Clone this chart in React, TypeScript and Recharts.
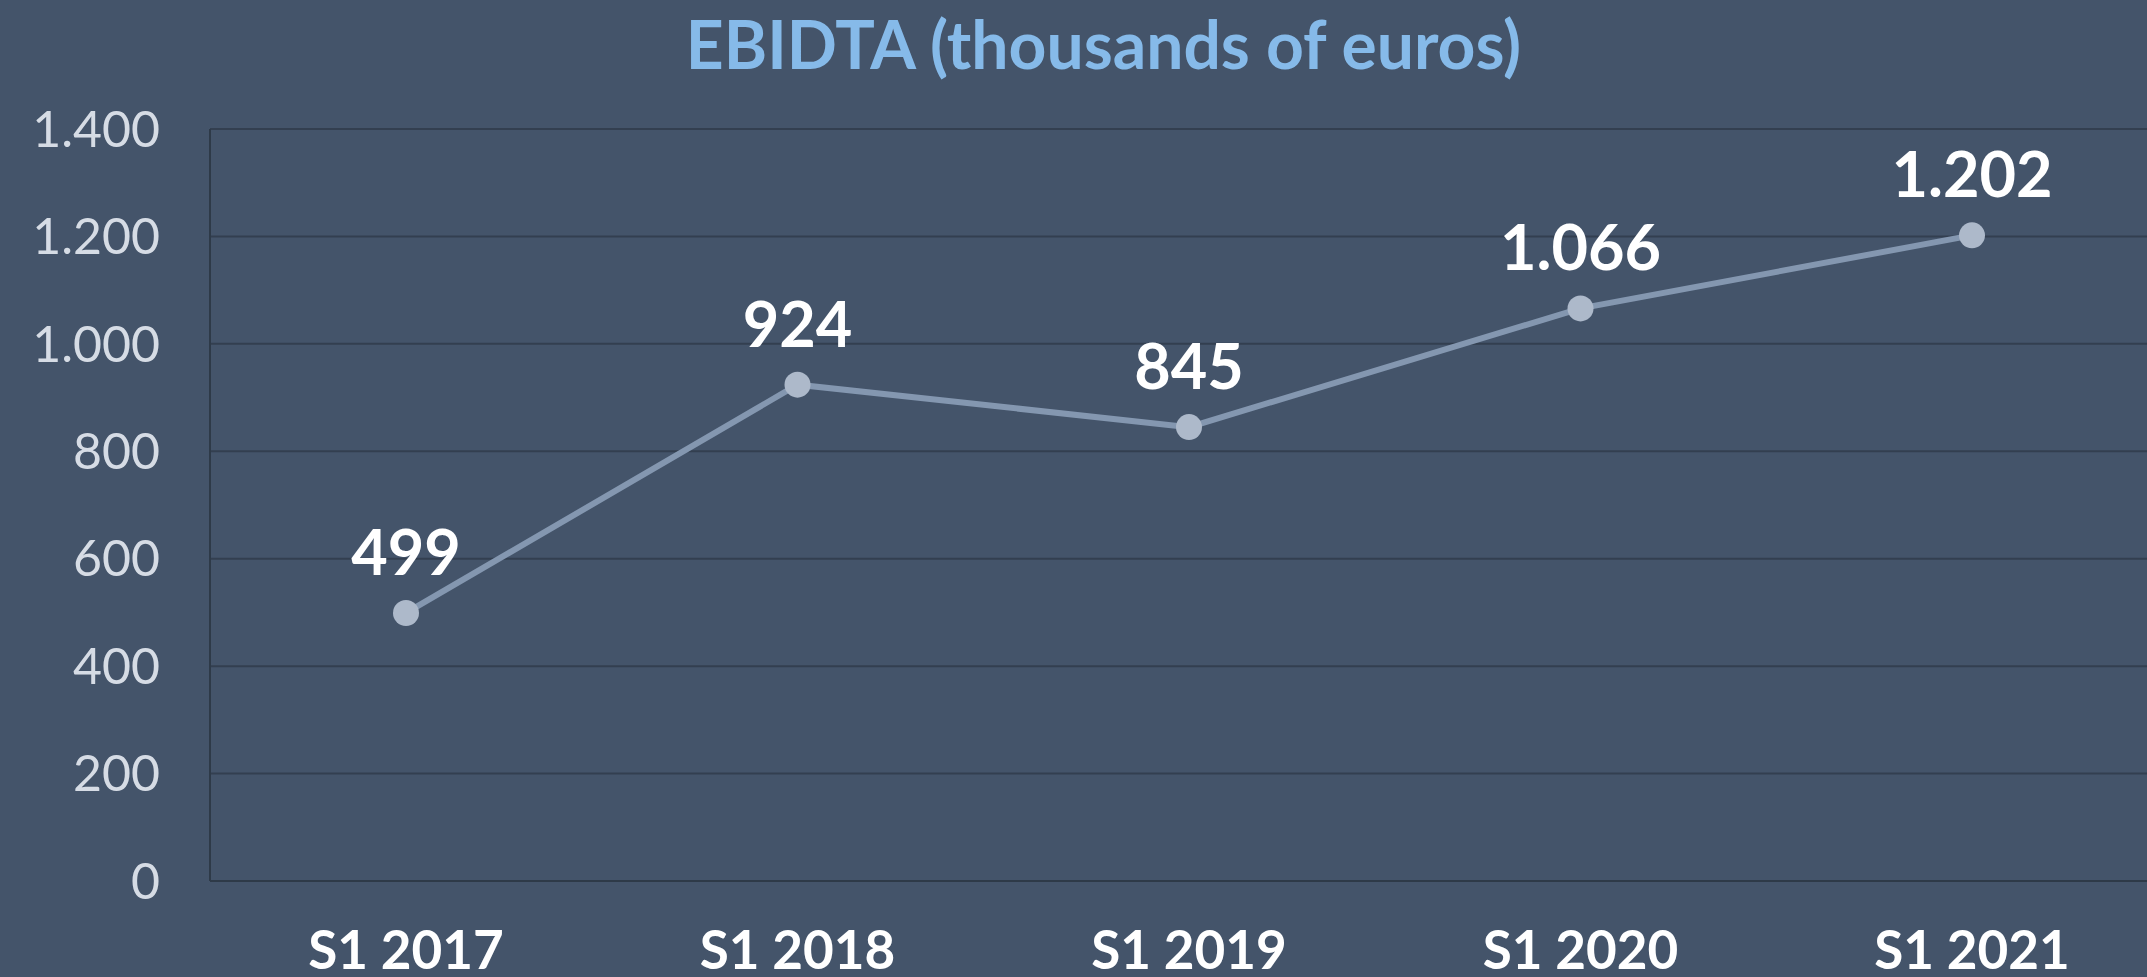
import { LineChart, Line, XAxis, YAxis, CartesianGrid, LabelList } from 'recharts';

const categories = ['S1 2017', 'S1 2018', 'S1 2019', 'S1 2020', 'S1 2021'];
const ebitda = [499, 924, 845, 1066, 1202];
const yTicks = [0, 200, 400, 600, 800, 1000, 1200, 1400];

const data = categories.map((name, i) => ({ name, value: ebitda[i] }));

// thousands separator is a dot, like the original
const fmt = (v: number | string) => String(v).replace(/\B(?=(\d{3})+(?!\d))/g, '.');

const FONT = 'Lato, "Open Sans", sans-serif';

export default function App() {
  return (
    <div
      style={{
        position: 'fixed',
        left: 0,
        top: 0,
        width: 2147,
        height: 977,
        background: '#44546A',
        fontFamily: FONT,
      }}
    >
      <div
        style={{
          position: 'absolute',
          left: 0,
          top: -1,
          width: 2207,
          textAlign: 'center',
          fontSize: 66,
          fontWeight: 700,
          color: '#86BAE9',
          lineHeight: '90px',
        }}
      >
        EBIDTA (thousands of euros)
      </div>
      <LineChart
        width={2147}
        height={977}
        data={data}
        margin={{ top: 129, right: 0, left: 0, bottom: 0 }}
        style={{ position: 'absolute', left: 0, top: 0 }}
      >
        <CartesianGrid vertical={false} stroke="#333F50" strokeWidth={2} />
        <XAxis
          dataKey="name"
          height={96}
          padding={{ left: 196, right: 175 }}
          axisLine={{ stroke: '#2E3A48', strokeWidth: 2 }}
          tickLine={false}
          tickSize={0}
          tickMargin={50}
          interval={0}
          tick={{ fontSize: 53, fontWeight: 700, fill: '#FFFFFF', fontFamily: FONT }}
        />
        <YAxis
          width={210}
          domain={[0, 1400]}
          ticks={yTicks}
          tickFormatter={fmt}
          axisLine={{ stroke: '#2E3A48', strokeWidth: 2 }}
          tickLine={false}
          tickSize={0}
          tickMargin={50}
          tick={{ fontSize: 50, fontWeight: 400, fill: '#D6DCE5', fontFamily: FONT }}
        />
        <Line
          type="linear"
          dataKey="value"
          stroke="#8497B0"
          strokeWidth={6}
          dot={{ r: 13, fill: '#ADB9CA', stroke: 'none' }}
          activeDot={false}
          isAnimationActive={false}
        >
          <LabelList
            dataKey="value"
            position="top"
            offset={38}
            formatter={(v: any) => fmt(v)}
            style={{ fontSize: 63, fontWeight: 700, fill: '#FFFFFF', fontFamily: FONT }}
          />
        </Line>
      </LineChart>
    </div>
  );
}
